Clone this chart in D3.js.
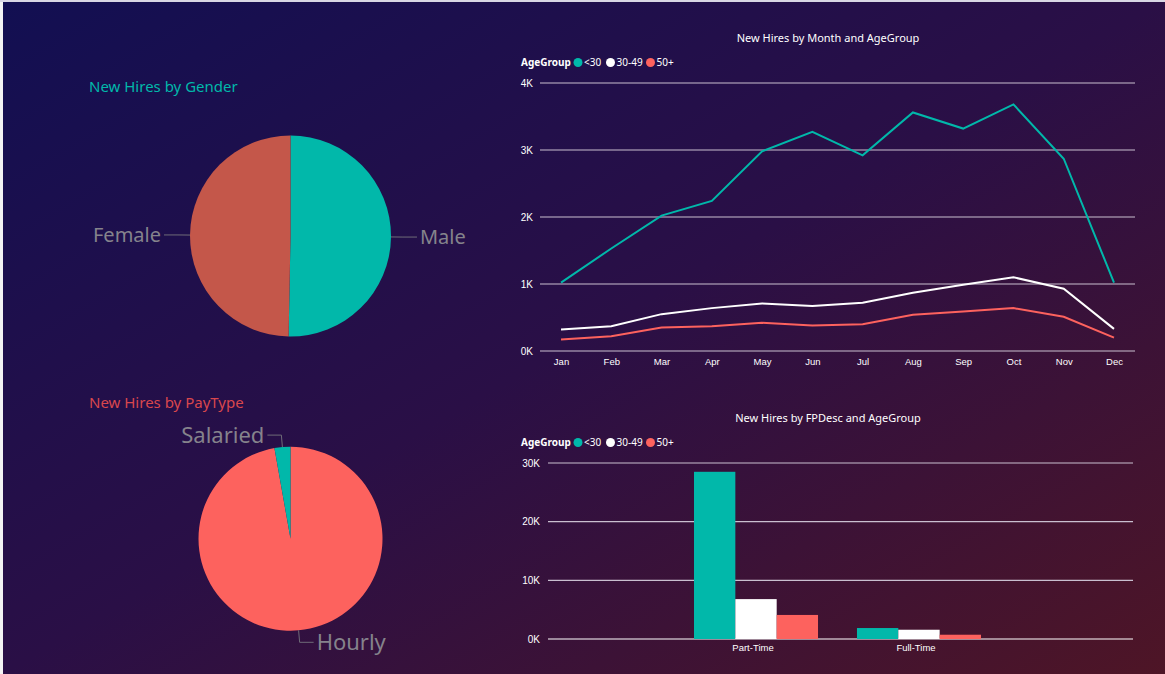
<!DOCTYPE html>
<html>
<head>
<meta charset="utf-8">
<script src="https://cdn.jsdelivr.net/npm/d3@7"></script>
<style>
  html, body { margin: 0; padding: 0; background: #fff; }
  svg { display: block; font-family: "Noto Sans", "Open Sans", sans-serif; }
</style>
</head>
<body>
<svg width="1165" height="674"></svg>
<script>
// data
const genderLabels = ["Male", "Female"];
const genderValues = [50.3, 49.7];
const payLabels = ["Hourly", "Salaried"];
const payValues = [97.2, 2.8];

const ageGroups = ["<30", "30-49", "50+"];
const months = ["Jan", "Feb", "Mar", "Apr", "May", "Jun", "Jul", "Aug", "Sep", "Oct", "Nov", "Dec"];
const hiresUnder30 = [1020, 1530, 2020, 2240, 2980, 3270, 2920, 3560, 3320, 3680, 2870, 1020];
const hires30to49 = [320, 370, 550, 640, 710, 670, 720, 870, 990, 1100, 930, 330];
const hires50plus = [170, 220, 350, 370, 420, 380, 400, 540, 590, 640, 510, 200];
const monthTicks = [0, 1000, 2000, 3000, 4000];

const fpCategories = ["Part-Time", "Full-Time"];
const fpUnder30 = [28500, 1870];
const fp30to49 = [6800, 1580];
const fp50plus = [4100, 730];
const fpTicks = [0, 10000, 20000, 30000];

const ageColors = ["#01b8aa", "#ffffff", "#fd625e"];

const svg = d3.select("svg");

// background gradient
const defs = svg.append("defs");
const grad = defs.append("linearGradient")
    .attr("id", "bg").attr("x1", "0").attr("y1", "0").attr("x2", "1").attr("y2", "1");
grad.append("stop").attr("offset", "0%").attr("stop-color", "#120f52");
grad.append("stop").attr("offset", "50%").attr("stop-color", "#2a0f46");
grad.append("stop").attr("offset", "100%").attr("stop-color", "#4e1526");

svg.append("rect").attr("width", 1165).attr("height", 674).attr("fill", "url(#bg)");
svg.append("rect").attr("x", 0).attr("y", 0).attr("width", 3).attr("height", 674).attr("fill", "#f4f4f4");
svg.append("rect").attr("x", 0).attr("y", 0).attr("width", 1165).attr("height", 2).attr("fill", "#d8d6e4");

const kFormat = v => (v / 1000) + "K";

// ---------- pies ----------
function drawPie(opts) {
    const g = svg.append("g");
    g.append("text")
        .attr("x", 89).attr("y", opts.titleY)
        .attr("font-size", 15).attr("fill", opts.titleColor)
        .text(opts.title);

    const pie = d3.pie().sort(null).value(d => d.value);
    const arcs = pie(opts.labels.map((l, i) => ({ label: l, value: opts.values[i] })));
    const arc = d3.arc().innerRadius(0).outerRadius(opts.r);
    const edge = d3.arc().innerRadius(opts.r).outerRadius(opts.r);
    const elbow = d3.arc().innerRadius(opts.r + 12).outerRadius(opts.r + 12);

    const pg = g.append("g").attr("transform", `translate(${opts.cx},${opts.cy})`);
    pg.selectAll("path.slice")
        .data(arcs)
        .join("path")
        .attr("class", "slice")
        .attr("d", arc)
        .attr("fill", (d, i) => opts.colors[i]);

    arcs.forEach(d => {
        const mid = (d.startAngle + d.endAngle) / 2;
        const a = edge.centroid(d);
        const b = elbow.centroid(d);
        const side = Math.sin(mid) >= 0 ? 1 : -1;
        const c = [b[0] + side * 14, b[1]];
        pg.append("polyline")
            .attr("points", [a, b, c].map(p => p.join(",")).join(" "))
            .attr("fill", "none")
            .attr("stroke", "#6f6c78")
            .attr("stroke-width", 1);
        pg.append("text")
            .attr("x", c[0] + side * 3)
            .attr("y", c[1])
            .attr("dy", "0.35em")
            .attr("text-anchor", side > 0 ? "start" : "end")
            .attr("font-size", opts.labelSize)
            .attr("fill", "#85838c")
            .text(d.data.label);
    });
}

drawPie({
    title: "New Hires by Gender", titleY: 92, titleColor: "#01b8aa",
    labels: genderLabels, values: genderValues,
    colors: ["#01b8aa", "#c4574a"],
    cx: 290.5, cy: 236, r: 100.5, labelSize: 20
});

drawPie({
    title: "New Hires by PayType", titleY: 408, titleColor: "#d9474d",
    labels: payLabels, values: payValues,
    colors: ["#fd625e", "#01b8aa"],
    cx: 290.5, cy: 538.7, r: 92, labelSize: 22
});

// ---------- legend ----------
function drawLegend(y) {
    const lg = svg.append("g");
    lg.append("text").attr("x", 521).attr("y", y + 3.5)
        .attr("font-size", 10).attr("font-weight", "bold").attr("fill", "#fff")
        .text("AgeGroup");
    const xs = [578, 610.5, 650.5];
    ageGroups.forEach((a, i) => {
        lg.append("circle").attr("cx", xs[i]).attr("cy", y).attr("r", 4.5).attr("fill", ageColors[i]);
        lg.append("text").attr("x", xs[i] + 6).attr("y", y + 3.5)
            .attr("font-size", 10).attr("fill", "#fff").text(a);
    });
}

// ---------- line chart ----------
svg.append("text").attr("x", 828).attr("y", 42).attr("text-anchor", "middle")
    .attr("font-size", 11).attr("fill", "#fff").text("New Hires by Month and AgeGroup");
drawLegend(62.5);

const xLine = d3.scalePoint().domain(months).range([561, 1114]);
const yLine = d3.scaleLinear().domain([0, 4000]).range([351, 83]);

const lineG = svg.append("g");
lineG.selectAll("line.grid")
    .data(monthTicks)
    .join("line")
    .attr("x1", 540).attr("x2", 1135)
    .attr("y1", d => yLine(d)).attr("y2", d => yLine(d))
    .attr("stroke", "#c9bfd0").attr("stroke-width", 1.2);

const yAxisL = d3.axisLeft(yLine).tickValues(monthTicks).tickFormat(kFormat).tickSize(0).tickPadding(0);
lineG.append("g").attr("transform", "translate(533,0)").call(yAxisL)
    .call(g => g.select(".domain").remove())
    .call(g => g.selectAll("text").attr("fill", "#fff").attr("font-size", 10).attr("font-family", "inherit"));

const xAxisL = d3.axisBottom(xLine).tickSize(0).tickPadding(0);
lineG.append("g").attr("transform", "translate(0,358)").call(xAxisL)
    .call(g => g.select(".domain").remove())
    .call(g => g.selectAll("text").attr("fill", "#fff").attr("font-size", 9.5).attr("font-family", "inherit"));

const lineGen = d3.line().x((d, i) => xLine(months[i])).y(d => yLine(d));
[hiresUnder30, hires30to49, hires50plus].forEach((s, i) => {
    lineG.append("path")
        .datum(s)
        .attr("d", lineGen)
        .attr("fill", "none")
        .attr("stroke", ageColors[i])
        .attr("stroke-width", 2);
});

// ---------- bar chart ----------
svg.append("text").attr("x", 828).attr("y", 422).attr("text-anchor", "middle")
    .attr("font-size", 11).attr("fill", "#fff").text("New Hires by FPDesc and AgeGroup");
drawLegend(442.5);

const x0 = d3.scaleBand().domain(fpCategories).range([694, 981]).paddingInner(0.239).paddingOuter(0);
const x1 = d3.scaleBand().domain(ageGroups).range([0, x0.bandwidth()]);
const yBar = d3.scaleLinear().domain([0, 30000]).range([639, 463]);

const barG = svg.append("g");
barG.selectAll("line.grid")
    .data(fpTicks)
    .join("line")
    .attr("x1", 548).attr("x2", 1133)
    .attr("y1", d => yBar(d)).attr("y2", d => yBar(d))
    .attr("stroke", d => d === 0 ? "#ffffff" : "#c9bfd0").attr("stroke-width", 1.2);

const yAxisB = d3.axisLeft(yBar).tickValues(fpTicks).tickFormat(kFormat).tickSize(0).tickPadding(0);
barG.append("g").attr("transform", "translate(540,0)").call(yAxisB)
    .call(g => g.select(".domain").remove())
    .call(g => g.selectAll("text").attr("fill", "#fff").attr("font-size", 10).attr("font-family", "inherit"));

const xAxisB = d3.axisBottom(x0).tickSize(0).tickPadding(0);
barG.append("g").attr("transform", "translate(-3,644)").call(xAxisB)
    .call(g => g.select(".domain").remove())
    .call(g => g.selectAll("text").attr("fill", "#fff").attr("font-size", 9.5).attr("font-family", "inherit"));

const barSeries = [fpUnder30, fp30to49, fp50plus];
fpCategories.forEach((c, ci) => {
    const grp = barG.append("g").attr("transform", `translate(${x0(c)},0)`);
    grp.selectAll("rect")
        .data(ageGroups.map((a, ai) => ({ age: a, value: barSeries[ai][ci], color: ageColors[ai] })))
        .join("rect")
        .attr("x", d => x1(d.age))
        .attr("width", x1.bandwidth())
        .attr("y", d => yBar(d.value))
        .attr("height", d => yBar(0) - yBar(d.value))
        .attr("fill", d => d.color);
});
</script>
</body>
</html>
